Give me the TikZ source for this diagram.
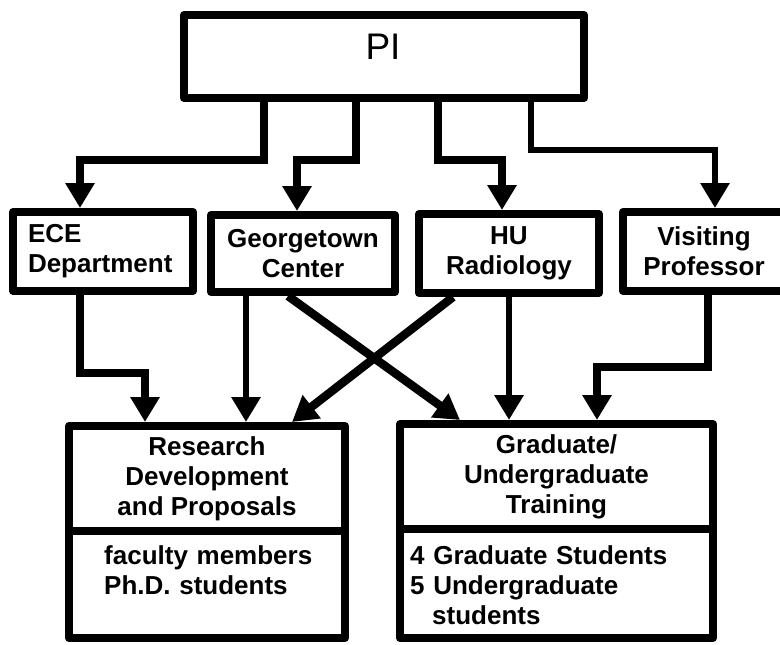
\documentclass[tikz,border=0pt]{standalone}
\usepackage{fontspec}
\setmainfont{Liberation Sans}
\usetikzlibrary{arrows.meta}
\tikzset{
  box/.style={draw=black, line width=8pt, line join=round, inner sep=0pt, fill=white,
    font=\bfseries\fontsize{26}{30}\selectfont, align=center},
  conn/.style={line width=7.5pt, line join=miter, draw=black,
    -{Triangle[width=28pt,length=25pt]}},
  thinconn/.style={conn, line width=6pt},
  txt/.style={inner sep=0pt, font=\bfseries\fontsize{26}{30}\selectfont, align=left}
}
\begin{document}
\begin{tikzpicture}[x=1pt,y=-1pt]
\clip (0,0) rectangle (780,645);
\fill[white] (0,0) rectangle (780,645);
% PI
\node[box, minimum width=400pt, minimum height=83pt] (pi) at (384,56.5) {};
\node[inner sep=0pt, font=\fontsize{37}{40}\selectfont] (pit) at (383,47) {PI};
% middle row
\node[box, minimum width=180pt, minimum height=79pt, text width=150pt, align=left] (ece) at (103,251.5) {ECE\\Department};
\node[box, minimum width=184pt, minimum height=77pt] (geo) at (303,253.5) {Georgetown\\Center};
\node[box, minimum width=180pt, minimum height=79pt] (hu) at (509,253.5) {HU\\Radiology};
\node[box, minimum width=177pt, minimum height=79pt] (vis) at (711.5,251.5) {};
\node[txt, align=center] (vist) at (704,251.5) {Visiting\\Professor};
% lower boxes
\node[box, minimum width=276pt, minimum height=105pt] (res) at (207,478.5) {Research\\Development\\and Proposals};
\node[box, minimum width=276pt, minimum height=107pt] (resb) at (207,584.5) {};
\node[box, minimum width=313pt, minimum height=105pt] (grad) at (556.5,476.5) {Graduate/\\Undergraduate\\Training};
\node[box, minimum width=313pt, minimum height=109pt] (gradb) at (556.5,583.5) {};
\node[txt, text width=240pt, anchor=base west] (rest) at (104,564) {faculty members\\Ph.D. students};
\node[txt, text width=300pt, anchor=base west] (gradt) at (410,564) {4 Graduate Students\\5 Undergraduate\\\hspace*{22pt}students};
% PI connectors
\draw[conn] ([xshift=-120pt]pi.south) -- ++(0,58) -| ([xshift=-23pt]ece.north);
\draw[conn] ([xshift=-28pt]pi.south) -- ++(0,58) -| ([xshift=-6pt]geo.north);
\draw[conn] ([xshift=54pt]pi.south) -- ++(0,58) -| ([xshift=-7pt]hu.north);
\draw[thinconn] ([xshift=147pt]pi.south) -- ++(0,48) -| ([xshift=3.5pt]vis.north);
% middle to lower
\draw[conn] ([xshift=-23pt]ece.south) -- ++(0,78) -| ([xshift=-62pt]res.north);
\draw[conn, line width=6.5pt] ([xshift=-57pt]geo.south) -- ([xshift=39pt]res.north);
\draw[conn, line width=8.5pt] ([xshift=-15pt]geo.south) -- ([xshift=-96.5pt]grad.north);
\draw[conn, line width=8.5pt] ([xshift=-56pt]hu.south) -- ([xshift=85pt]res.north);
\draw[conn, line width=6.5pt] (hu.south) -- ([xshift=-47.5pt]grad.north);
\draw[conn] ([xshift=-3.5pt]vis.south) -- ++(0,72) -| ([xshift=40.5pt]grad.north);
\end{tikzpicture}
\end{document}
